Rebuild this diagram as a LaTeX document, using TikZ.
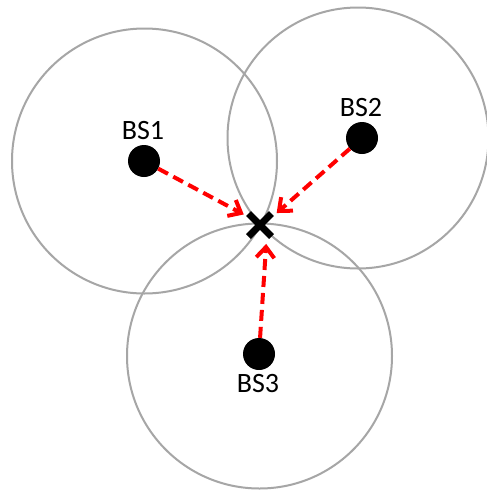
\documentclass[tikz,border=0pt]{standalone}
\usepackage{fontspec}
\setmainfont{Carlito}
\usetikzlibrary{calc,shapes.misc}
\definecolor{ringgray}{HTML}{A6A6A6}
\definecolor{arrowred}{HTML}{FF0000}
\tikzset{
  ring/.style={draw=ringgray, line width=2pt},
  station/.style={circle, fill=black, minimum size=32pt, inner sep=0pt},
  bslabel/.style={anchor=base, inner sep=0pt, font=\fontsize{28}{32}\selectfont},
  ranging/.style={draw=arrowred, line width=4pt, dash pattern=on 11pt off 6pt, shorten >=2pt},
  barbhead/.style={draw=arrowred, line width=4pt, line join=miter, line cap=butt},
  target/.style={cross out, draw=black, line width=7pt, minimum size=16pt, inner sep=0pt}
}
\newcommand{\chevronat}[2]{%
  \draw[barbhead] ($(#1)!14pt!-40:(#2)$) -- (#1) -- ($(#1)!14pt!40:(#2)$);}
\begin{document}
\begin{tikzpicture}[x=1pt,y=-1pt]
\useasboundingbox (0,0) rectangle (487,490);
\fill[white] (0,0) rectangle (487,490);
% coverage circles
\draw[ring] (144.5,161) circle (132.5);
\draw[ring] (358,138) circle (130.5);
\draw[ring] (259.5,356) circle (132.5);
% base stations
\node[station] (b1) at (144,161) {};
\node[station] (b2) at (362,138) {};
\node[station] (b3) at (259,354) {};
\node[bslabel] (l1) at (143,139) {BS1};
\node[bslabel] (l2) at (361,116) {BS2};
\node[bslabel] (l3) at (258,392) {BS3};
% target
\node[target] (x) at (260,225) {};
\coordinate (t1) at (241,213);
\coordinate (t2) at (279,211);
\coordinate (t3) at (266,247);
\draw[ranging] (b1) -- (t1);
\draw[ranging] (b2) -- (t2);
\draw[ranging] (b3) -- (t3);
\chevronat{t1}{b1}
\chevronat{t2}{b2}
\chevronat{t3}{b3}
\end{tikzpicture}
\end{document}
